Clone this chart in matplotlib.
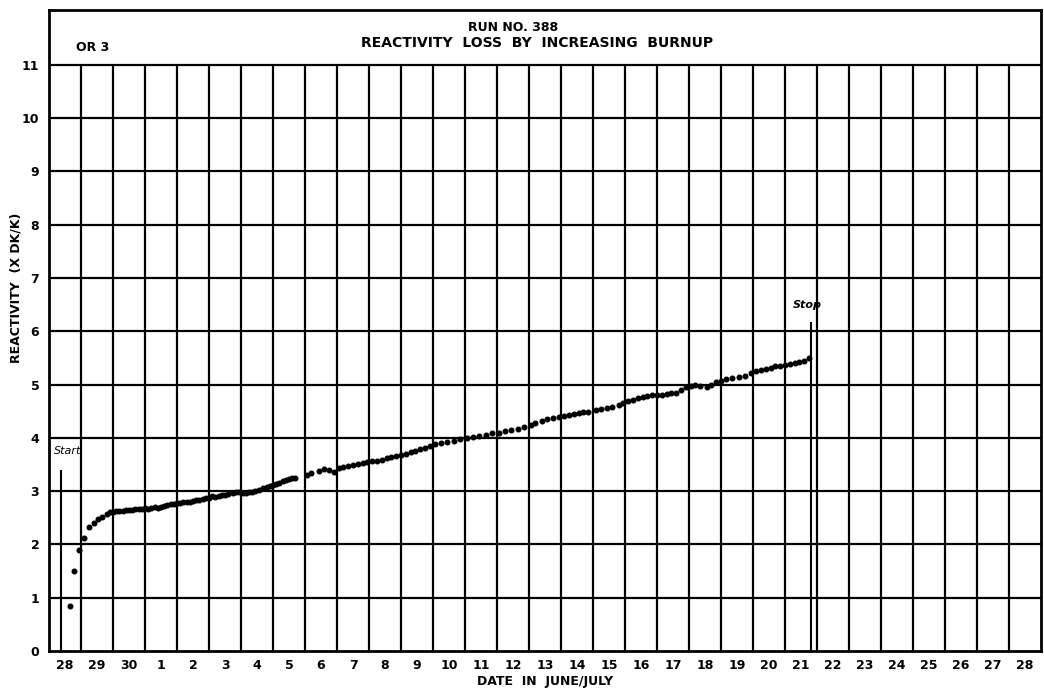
"""Reactivity loss by increasing burnup, run no. 388."""
import matplotlib
matplotlib.use("Agg")
import matplotlib.pyplot as plt

# day labels, one per grid cell (June 28 .. July 28)
day_labels = ["28", "29", "30"] + [str(d) for d in range(1, 29)]

# measured points: x in days since June 28 00:00, y in % dk/k
days = [0.65, 0.78, 0.95, 1.10, 1.25, 1.40, 1.53, 1.65, 1.80, 1.90,
        2.00, 2.10, 2.20, 2.30, 2.40, 2.50, 2.60, 2.70, 2.80, 2.90,
        3.00, 3.10, 3.20, 3.30, 3.40, 3.50, 3.60, 3.70, 3.80, 3.90,
        4.00, 4.10, 4.20, 4.30, 4.40, 4.50, 4.60, 4.70, 4.80, 4.90,
        5.00, 5.10, 5.20, 5.30, 5.40, 5.50, 5.60, 5.75, 5.85, 5.95,
        6.05, 6.15, 6.25, 6.35, 6.45, 6.55, 6.70, 6.80, 6.90, 7.00,
        7.10, 7.20, 7.30, 7.40, 7.50, 7.60, 7.70, 8.05, 8.20, 8.45,
        8.60, 8.75, 8.90, 9.05, 9.20, 9.35, 9.50, 9.65, 9.80, 9.95,
        10.10, 10.25, 10.40, 10.55, 10.70, 10.85, 11.00, 11.15, 11.30, 11.45,
        11.60, 11.75, 11.90, 12.05, 12.25, 12.45, 12.65, 12.85, 13.05, 13.25,
        13.45, 13.65, 13.85, 14.05, 14.25, 14.45, 14.65, 14.85, 15.05, 15.20,
        15.40, 15.55, 15.75, 15.95, 16.10, 16.25, 16.40, 16.55, 16.70, 16.85,
        17.10, 17.25, 17.45, 17.60, 17.80, 17.95, 18.10, 18.25, 18.40, 18.55,
        18.70, 18.85, 19.00, 19.15, 19.30, 19.45, 19.60, 19.75, 19.90, 20.05,
        20.20, 20.35, 20.55, 20.70, 20.85, 21.00, 21.15, 21.35, 21.55, 21.75,
        21.95, 22.10, 22.25, 22.40, 22.55, 22.70, 22.85, 23.00, 23.15, 23.30,
        23.45, 23.60, 23.75]
reactivity = [0.85, 1.50, 1.90, 2.13, 2.32, 2.40, 2.47, 2.52, 2.57, 2.60,
              2.60, 2.62, 2.63, 2.62, 2.64, 2.65, 2.64, 2.66, 2.67, 2.66,
              2.68, 2.67, 2.69, 2.70, 2.69, 2.71, 2.72, 2.74, 2.75, 2.76,
              2.78, 2.77, 2.79, 2.80, 2.79, 2.82, 2.84, 2.83, 2.86, 2.87,
              2.88, 2.90, 2.89, 2.91, 2.93, 2.92, 2.94, 2.97, 2.99, 2.98,
              2.97, 2.96, 2.98, 2.99, 3.01, 3.02, 3.06, 3.08, 3.10, 3.11,
              3.14, 3.16, 3.19, 3.21, 3.23, 3.25, 3.25, 3.30, 3.34, 3.38,
              3.41, 3.40, 3.36, 3.43, 3.46, 3.47, 3.50, 3.51, 3.53, 3.54,
              3.56, 3.57, 3.59, 3.62, 3.64, 3.66, 3.68, 3.70, 3.73, 3.76,
              3.79, 3.81, 3.85, 3.88, 3.90, 3.92, 3.94, 3.97, 4.00, 4.02,
              4.04, 4.06, 4.09, 4.10, 4.13, 4.14, 4.17, 4.21, 4.24, 4.27,
              4.31, 4.35, 4.37, 4.39, 4.41, 4.43, 4.45, 4.47, 4.48, 4.49,
              4.53, 4.54, 4.56, 4.58, 4.62, 4.66, 4.70, 4.72, 4.74, 4.76,
              4.78, 4.80, 4.80, 4.81, 4.82, 4.84, 4.85, 4.90, 4.95, 4.97,
              4.99, 4.98, 4.95, 5.00, 5.04, 5.07, 5.10, 5.13, 5.15, 5.16,
              5.21, 5.25, 5.28, 5.30, 5.32, 5.34, 5.35, 5.37, 5.38, 5.40,
              5.42, 5.45, 5.49]

start_day, start_top = 0.37, 3.4
stop_day, stop_top = 23.8, 6.18

fig = plt.figure(figsize=(10.44, 6.89), dpi=100)
ax = fig.add_axes([49 / 1044, 38 / 689, 992 / 1044, 641 / 689])
ax.set_xlim(0, len(day_labels))
ax.set_ylim(0, 12.03)

# grid: full-width horizontals, verticals stop below the title strip
for y in range(1, 12):
    ax.axhline(y, color="black", lw=1.6)
ax.vlines(range(1, len(day_labels)), 0, 11, color="black", lw=1.6)
for s in ax.spines.values():
    s.set_linewidth(2)

ax.plot(days, reactivity, "o", color="black", ms=3.3)

# start / stop markers
ax.vlines([start_day], 0, start_top, color="black", lw=1.5)
ax.vlines([stop_day], 0, stop_top, color="black", lw=1.5)
ax.text(0.15, 3.75, "Start", fontsize=8, fontstyle="italic", va="center")
ax.text(23.25, 6.5, "Stop", fontsize=8, fontstyle="italic", fontweight="bold", va="center")

tick_font = dict(fontsize=9, fontweight="bold")
ax.set_yticks(range(0, 12))
ax.set_yticklabels([str(v) for v in range(0, 12)], **tick_font)
ax.set_xticks([i + 0.5 for i in range(len(day_labels))])
ax.set_xticklabels(day_labels, **tick_font)
ax.tick_params(axis="both", length=0)
ax.tick_params(axis="y", pad=7)
ax.tick_params(axis="x", pad=6)

ax.set_xlabel("DATE  IN  JUNE/JULY", fontsize=9, fontweight="bold", labelpad=2)
fig.text(16 / 1044, 1 - 288 / 689, "REACTIVITY  (X DK/K)", rotation=90,
         fontsize=9, fontweight="bold", ha="center", va="center")

# title strip inside the frame
ax.text(14.5, 11.7, "RUN NO. 388", fontsize=9, fontweight="bold", ha="center", va="center")
ax.text(15.25, 11.42, "REACTIVITY  LOSS  BY  INCREASING  BURNUP", fontsize=10,
        fontweight="bold", ha="center", va="center")
ax.text(0.85, 11.33, "OR 3", fontsize=9, fontweight="bold", va="center")

fig.savefig("out.png", dpi=100)
